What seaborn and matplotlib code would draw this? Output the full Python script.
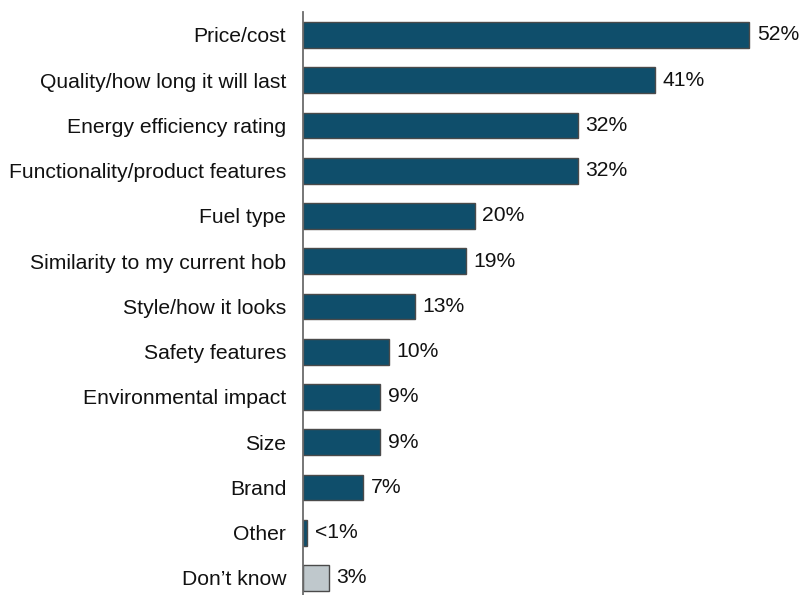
import matplotlib
matplotlib.use("Agg")
import matplotlib.pyplot as plt
import seaborn as sns
import pandas as pd

categories = [
    "Price/cost", "Quality/how long it will last", "Energy efficiency rating",
    "Functionality/product features", "Fuel type", "Similarity to my current hob",
    "Style/how it looks", "Safety features", "Environmental impact", "Size",
    "Brand", "Other", "Don\u2019t know",
]
values = [52, 41, 32, 32, 20, 19, 13, 10, 9, 9, 7, 0.5, 3]
value_labels = ["52%", "41%", "32%", "32%", "20%", "19%", "13%", "10%",
                "9%", "9%", "7%", "<1%", "3%"]

main_color = "#0f4e6b"
dont_know_color = "#bfc8cc"
colors = [dont_know_color if c == "Don\u2019t know" else main_color for c in categories]

sns.set_style("white")
plt.rcParams["font.family"] = ["Liberation Sans", "DejaVu Sans"]

df = pd.DataFrame({"category": categories, "value": values})

fig = plt.figure(figsize=(8.01, 5.95), dpi=100)
ax = fig.add_axes([303 / 801, 0, 498 / 801, 583 / 595])

sns.barplot(data=df, x="value", y="category", hue="category",
            palette=colors, legend=False, width=0.57, orient="h",
            edgecolor="#4a4a4a", linewidth=1.0, saturation=1, ax=ax)

ax.set_xlim(0, 58)
ax.set_ylim(12.376, -0.508)
ax.set_xlabel("")
ax.set_ylabel("")
ax.set_xticks([])
for s in ["top", "right", "bottom"]:
    ax.spines[s].set_visible(False)
ax.spines["left"].set_color("#6b6b6b")
ax.spines["left"].set_linewidth(1.3)
ax.tick_params(axis="y", length=0, pad=12, labelsize=15.2, labelcolor="#111111")

for i, (v, lab) in enumerate(zip(values, value_labels)):
    ax.text(v + 0.9, i, lab, va="center", ha="left", fontsize=15.2, color="#111111")

fig.savefig("out.png", dpi=100)
